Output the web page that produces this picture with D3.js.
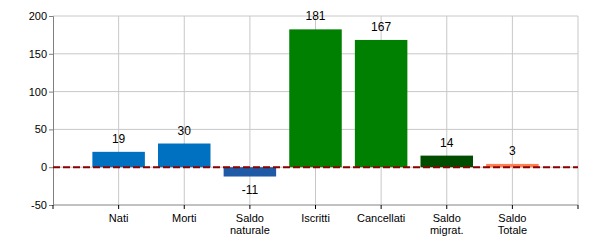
<!DOCTYPE html>
<meta charset="utf-8">
<head>
    <script src="https://d3js.org/d3.v7.min.js"></script>
</head>
<body style="margin:0;background:#fff">
    <div id="chart"></div>
</body>
<style>
    body { font-family: 'Liberation Sans', Arial, sans-serif; }
    .tick text { font-family: 'Liberation Sans', Arial, sans-serif; font-size: 11px; fill: #000; }
</style>
<script>
    // data
    var labels = [["Nati"], ["Morti"], ["Saldo", "naturale"], ["Iscritti"], ["Cancellati"], ["Saldo", "migrat."], ["Saldo", "Totale"]];
    var values = [19, 30, -11, 181, 167, 14, 3];
    var colors = ["#0070c0", "#0070c0", "#1f5aa6", "#008000", "#008000", "#004d00", "#ff7f50"];
    var yTicks = [-50, 0, 50, 100, 150, 200];

    var margin = {top: 16, right: 22, bottom: 45, left: 53},
        width = 600 - margin.left - margin.right,
        height = 250 - margin.top - margin.bottom;

    var svg = d3.select("#chart")
        .append("svg")
        .attr("width", 600)
        .attr("height", 250)
        .append("g")
        .attr("transform", "translate(" + margin.left + "," + margin.top + ")");

    // 8 slots, categories sit on slots 1..7
    var step = width / 8;
    var x = function (i) { return (i + 1) * step; };

    var y = d3.scaleLinear()
        .domain([-50, 200])
        .range([height, 0]);

    // horizontal grid
    svg.selectAll(".hgrid")
        .data(yTicks)
        .enter()
        .append("line")
        .attr("x1", 0).attr("x2", width)
        .attr("y1", function (d) { return y(d); })
        .attr("y2", function (d) { return y(d); })
        .attr("stroke", "#c8c8c8");

    // vertical grid (category centres + right edge)
    var vx = values.map(function (d, i) { return x(i); }).concat([width]);
    svg.selectAll(".vgrid")
        .data(vx)
        .enter()
        .append("line")
        .attr("x1", function (d) { return d; })
        .attr("x2", function (d) { return d; })
        .attr("y1", 0).attr("y2", height)
        .attr("stroke", "#c8c8c8");

    // bars
    var bw = step * 0.8;
    svg.selectAll(".bar")
        .data(values)
        .enter()
        .append("rect")
        .attr("x", function (d, i) { return x(i) - bw / 2; })
        .attr("y", function (d) { return y(Math.max(0, d)) - (d > 0 ? 1 : 0); })
        .attr("width", bw)
        .attr("height", function (d) { return Math.abs(y(d) - y(0)) + 1; })
        .attr("fill", function (d, i) { return colors[i]; });

    // value labels
    svg.selectAll(".val")
        .data(values)
        .enter()
        .append("text")
        .attr("x", function (d, i) { return x(i); })
        .attr("y", function (d) { return d >= 0 ? y(d) - 10 : y(d) + 18; })
        .attr("text-anchor", "middle")
        .style("font-size", "12px")
        .text(function (d) { return d; });

    // y axis
    svg.append("g")
        .call(d3.axisLeft(y).tickValues(yTicks).tickSize(4).tickPadding(2)
            .tickFormat(function (d) { return String(d); }))
        .call(function (g) { g.selectAll("line, path").attr("stroke", "#808080"); });

    // bottom axis line and ticks
    svg.append("line")
        .attr("x1", 0).attr("x2", width)
        .attr("y1", height).attr("y2", height)
        .attr("stroke", "#a0a0a0");
    svg.selectAll(".xt")
        .data([0].concat(vx))
        .enter()
        .append("line")
        .attr("x1", function (d) { return d; })
        .attr("x2", function (d) { return d; })
        .attr("y1", height).attr("y2", height + 4)
        .attr("stroke", "#000");

    // category labels
    var cl = svg.selectAll(".cat")
        .data(labels)
        .enter()
        .append("text")
        .attr("text-anchor", "middle")
        .style("font-size", "11px")
        .attr("transform", function (d, i) { return "translate(" + x(i) + "," + (height + 17) + ")"; });
    cl.selectAll("tspan")
        .data(function (d) { return d; })
        .enter()
        .append("tspan")
        .attr("x", 0)
        .attr("dy", function (d, j) { return j === 0 ? 0 : 12; })
        .text(function (d) { return d; });

    // zero line
    svg.append("line")
        .attr("x1", 0).attr("x2", width)
        .attr("y1", y(0)).attr("y2", y(0))
        .attr("stroke", "#8b0000")
        .attr("stroke-width", 2)
        .attr("stroke-dasharray", "7,3");
</script>
